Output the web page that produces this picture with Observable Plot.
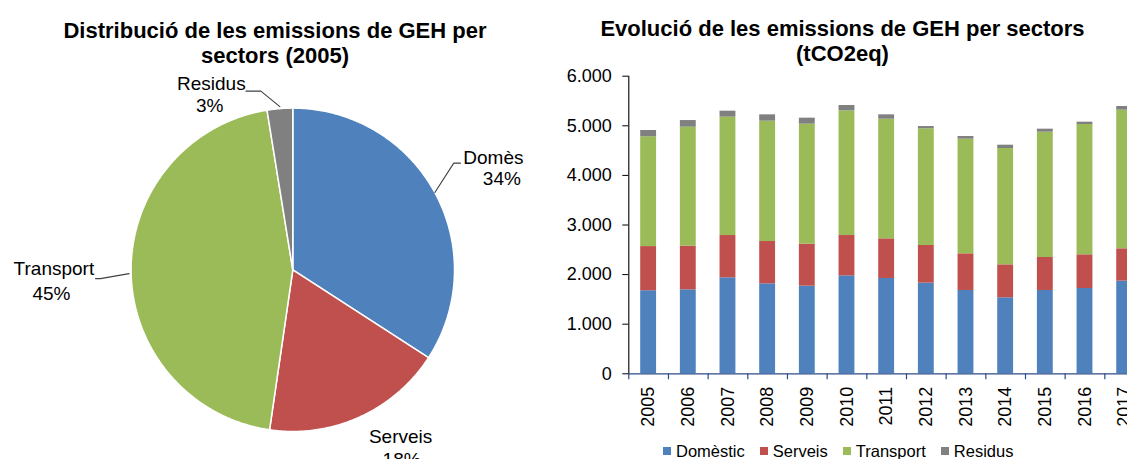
<!DOCTYPE html>
<html><head><meta charset="utf-8">
<script src="https://cdn.jsdelivr.net/npm/d3@7"></script>
<script src="https://cdn.jsdelivr.net/npm/@observablehq/plot@0.6"></script>
<style>
html,body{margin:0;padding:0;background:#fff;overflow:hidden;width:1127px;height:459px;}
body{position:relative;font-family:"Liberation Sans",Arial,sans-serif;color:#000;}
.title{position:absolute;font-weight:bold;font-size:22px;line-height:25px;text-align:center;white-space:nowrap;}
#pie{position:absolute;left:0;top:0;width:540px;height:459px;}
#bars{position:absolute;left:540px;top:60px;width:604px;height:399px;}
#legend{position:absolute;left:663px;top:441px;display:flex;font-size:16.5px;line-height:20px;white-space:nowrap;}
.item{display:flex;align-items:center;margin-right:15px;}
.sw{width:8px;height:8px;margin-right:5px;}
svg{max-width:none !important;}
</style>
</head><body>
<div class="title" style="left:0;top:18px;width:550px;">Distribució de les emissions de GEH per<br>sectors (2005)</div>
<div class="title" style="left:560px;top:16px;width:565px;">Evolució de les emissions de GEH per sectors<br>(tCO2eq)</div>
<div id="pie"></div>
<div id="bars"></div>
<div id="legend"></div>
<script>
// ---- data ----
const years = ["2005","2006","2007","2008","2009","2010","2011","2012","2013","2014","2015","2016","2017"];
const sectors = ["Domèstic","Serveis","Transport","Residus"];
const pieNames = ["Domès","Serveis","Transport","Residus"];
const domestic  = [1675,1693,1935,1814,1767,1975,1922,1828,1680,1532,1680,1720,1868];
const serveis   = [890,880,853,853,847,813,799,759,739,665,665,679,652];
const transport = [2215,2399,2386,2426,2419,2513,2412,2352,2311,2345,2526,2627,2795];
const residus   = [125,134,121,128,121,108,88,46,54,67,61,47,74];
const yTicks = [0,1000,2000,3000,4000,5000,6000];
const colors = ["#4F81BD","#C0504D","#9BBB59","#808080"];
const series = [domestic, serveis, transport, residus];

const font = '"Liberation Sans", Arial, sans-serif';

// ---- pie (2005) ----
const R = 161.7, CX = 292.3, CY = 269.3;
const pieData = sectors.map((s, j) => ({sector: s, name: pieNames[j], value: series[j][0]}));
const total = d3.sum(pieData, d => d.value);
const arcs = d3.pie().sort(null).value(d => d.value)(pieData);
const slicePts = arcs.flatMap(a => {
  const n = Math.max(2, Math.ceil((a.endAngle - a.startAngle) / 0.01));
  const pts = [{sector: a.data.sector, x: 0, y: 0}];
  for (let k = 0; k <= n; k++) {
    const t = a.startAngle + (a.endAngle - a.startAngle) * k / n;
    pts.push({sector: a.data.sector, x: Math.sin(t), y: Math.cos(t)});
  }
  pts.push({sector: a.data.sector, x: 0, y: 0});
  return pts;
});
// label layout: pixel offsets from the slice's mid-angle point on the rim (styling)
const layout = {
  "Domèstic":  {name: [58.5, -35], pct: [67, -13.5], leader: [[0, 0], [18.9, -29.4], [25.6, -29.4]]},
  "Serveis":   {name: [41, 20], pct: [42, 43], leader: []},
  "Transport": {name: [-77.2, -1.8], pct: [-79.7, 22.5], leader: [[-2, 2.5], [-30.6, 7.5], [-35.6, 7.5]]},
  "Residus":   {name: [-68.5, -24.5], pct: [-70.1, -2.5], leader: [[0, -2], [-19, -17.5], [-34, -17.5]]}
};
const pctFmt = d3.format(".0%");
const anchors = arcs.map(a => {
  const m = (a.startAngle + a.endAngle) / 2;
  return {sector: a.data.sector, name: a.data.name, pct: pctFmt(a.data.value / total), ax: Math.sin(m), ay: Math.cos(m)};
});
const off = (a, o) => ({x: a.ax + o[0] / R, y: a.ay - o[1] / R});
const nameLabels = anchors.map(a => ({...off(a, layout[a.sector].name), text: a.name}));
const pctLabels = anchors.map(a => ({...off(a, layout[a.sector].pct), text: a.pct}));
const leaderPts = anchors.flatMap(a => layout[a.sector].leader.map(o => ({sector: a.sector, ...off(a, o)})));

const pie = Plot.plot({
  width: 540, height: 459,
  margin: 0,
  style: {fontFamily: font, background: "transparent", overflow: "visible"},
  x: {domain: [-1, 1], range: [CX - R, CX + R], axis: null},
  y: {domain: [-1, 1], range: [CY + R, CY - R], axis: null},
  color: {domain: sectors, range: colors},
  marks: [
    Plot.line(slicePts, {x: "x", y: "y", z: "sector", fill: "sector", stroke: "white", strokeWidth: 1.5, strokeLinejoin: "round"}),
    Plot.line(leaderPts, {x: "x", y: "y", z: "sector", stroke: "#404040", strokeWidth: 1.1}),
    Plot.text(nameLabels, {x: "x", y: "y", text: "text", fontSize: 19, fill: "#000"}),
    Plot.text(pctLabels, {x: "x", y: "y", text: "text", fontSize: 19, fill: "#000"})
  ]
});
document.getElementById("pie").append(pie);

// ---- stacked bars ----
const tidy = years.flatMap((yr, i) => sectors.map((s, j) => ({year: yr, sector: s, value: series[j][i]})));
const W = 604, H = 399, ML = 88.3, MT = 15.7, MB = 85.7;
const step = (W - ML) / (years.length - 0.6 + 0.6);
const loc = d3.formatLocale({decimal: ",", thousands: ".", grouping: [3], currency: ["", " €"]});
const fmt = loc.format(",d");
const axisBlue = "#2E4B8A";

const bars = Plot.plot({
  width: W, height: H,
  marginLeft: ML, marginRight: 0, marginTop: MT, marginBottom: MB,
  style: {fontFamily: font, background: "transparent", color: "#000", overflow: "visible"},
  x: {domain: years, paddingInner: 0.6, paddingOuter: 0.3, round: false, axis: null},
  y: {domain: [0, 6000], axis: null},
  color: {domain: sectors, range: colors},
  marks: [
    Plot.barY(tidy, {x: "year", y: "value", fill: "sector", order: sectors}),
    Plot.ruleY([0], {stroke: axisBlue, strokeWidth: 1.3}),
    Plot.ruleX(years, {x: d => d, dx: -step / 2, y1: 0, y2: 0, insetBottom: -6, stroke: axisBlue, strokeWidth: 1.2}),
    Plot.ruleX([years[0]], {dx: -step / 2, y1: 0, y2: 6000, stroke: "#000", strokeWidth: 1.1}),
    Plot.axisY({ticks: yTicks, tickSize: 6, tickPadding: 11, tickFormat: fmt, fontSize: 18, stroke: "#000", label: null}),
    Plot.axisX({tickSize: 0, tickRotate: -90, tickPadding: 13, fontSize: 18, label: null})
  ]
});
document.getElementById("bars").append(bars);

// ---- legend ----
const lg = document.getElementById("legend");
sectors.forEach((s, j) => {
  const it = document.createElement("div"); it.className = "item";
  const sw = document.createElement("div"); sw.className = "sw"; sw.style.background = colors[j];
  const tx = document.createElement("span"); tx.textContent = s;
  it.append(sw, tx); lg.append(it);
});
</script>
</body></html>
